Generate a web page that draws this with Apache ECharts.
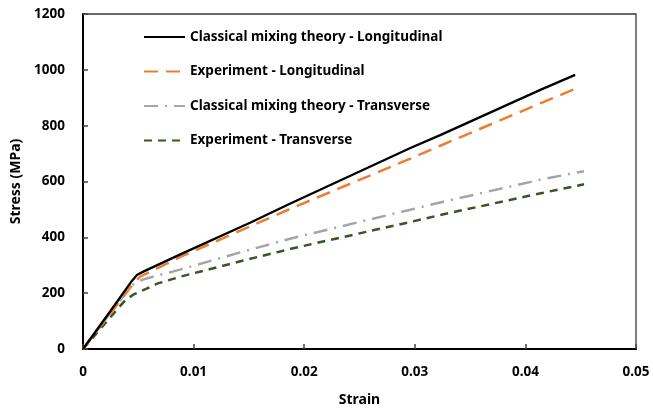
<!DOCTYPE html>
<html>
<head>
<meta charset="utf-8">
<script src="https://cdn.jsdelivr.net/npm/echarts@6/dist/echarts.min.js"></script>
<style>
  html, body { margin: 0; padding: 0; background: #fff; }
  #chart { width: 653px; height: 412px; }
</style>
</head>
<body>
<div id="chart"></div>
<script>
// Stress-strain curves: classical mixing theory vs experiment
const seriesNames = [
  'Classical mixing theory - Longitudinal',
  'Experiment - Longitudinal',
  'Classical mixing theory - Transverse',
  'Experiment - Transverse'
];

const longTheoryStrain = [0, 0.0025, 0.0044, 0.0049, 0.0055, 0.0088, 0.0151, 0.0188, 0.0296, 0.0323, 0.0414, 0.0445];
const longTheoryStress = [0, 137, 243, 266, 278, 339, 452, 522, 720, 766, 929, 982];

const longExpStrain = [0, 0.0025, 0.0045, 0.0052, 0.006, 0.0088, 0.0188, 0.0296, 0.0323, 0.0414, 0.0447];
const longExpStress = [0, 128, 232, 260, 275, 330, 503, 682, 728, 881, 935];

const transTheoryStrain = [0, 0.0025, 0.0042, 0.0047, 0.0055, 0.0067, 0.0081, 0.0144, 0.0188, 0.0296, 0.0323, 0.0414, 0.0453];
const transTheoryStress = [0, 130, 218, 238, 250, 263, 277, 348, 396, 499, 525, 607, 637];

const transExpStrain = [0, 0.002, 0.0038, 0.0046, 0.0058, 0.0067, 0.0088, 0.0144, 0.0188, 0.0296, 0.0323, 0.0414, 0.0453];
const transExpStress = [0, 92, 174, 196, 217, 234, 259, 316, 359, 455, 480, 558, 590];

const strainTicks = { min: 0, max: 0.05, interval: 0.01 };
const stressTicks = { min: 0, max: 1200, interval: 200 };

function pairs(xs, ys) {
  return xs.map((x, i) => [x, ys[i]]);
}

const font = 'Noto Sans';
const plainNumber = v => String(Math.round(v * 1e6) / 1e6);

const chart = echarts.init(document.getElementById('chart'), null, { renderer: 'canvas' });

chart.setOption({
  animation: false,
  backgroundColor: '#ffffff',
  grid: {
    left: 83, right: 17, top: 14, bottom: 61,
    show: true, borderColor: '#3a3a3a', borderWidth: 1.3
  },
  legend: {
    orient: 'vertical',
    left: 138,
    top: 25,
    itemWidth: 41,
    itemHeight: 14,
    itemGap: 20.5,
    data: seriesNames,
    itemStyle: { opacity: 0 },
    textStyle: { fontFamily: font, fontWeight: 'bold', fontSize: 13.5, color: '#000' }
  },
  xAxis: {
    type: 'value',
    min: strainTicks.min, max: strainTicks.max, interval: strainTicks.interval,
    name: 'Strain',
    nameLocation: 'middle',
    nameGap: 44,
    nameTextStyle: { fontFamily: font, fontWeight: 'bold', fontSize: 14, color: '#000' },
    axisLine: { lineStyle: { color: '#000', width: 2 } },
    axisTick: { inside: true, length: 5, lineStyle: { color: '#444', width: 1.5 } },
    axisLabel: { fontFamily: font, fontWeight: 'bold', fontSize: 13.5, color: '#000', margin: 16, formatter: plainNumber },
    splitLine: { show: false }
  },
  yAxis: {
    type: 'value',
    min: stressTicks.min, max: stressTicks.max, interval: stressTicks.interval,
    name: 'Stress (MPa)',
    nameLocation: 'middle',
    nameGap: 60,
    nameTextStyle: { fontFamily: font, fontWeight: 'bold', fontSize: 14, color: '#000' },
    axisLine: { lineStyle: { color: '#000', width: 2 } },
    axisTick: { inside: true, length: 5, lineStyle: { color: '#444', width: 1.5 } },
    axisLabel: { fontFamily: font, fontWeight: 'bold', fontSize: 13.5, color: '#000', margin: 18, formatter: plainNumber },
    splitLine: { show: false }
  },
  series: [
    {
      name: seriesNames[0], type: 'line', showSymbol: false, symbol: 'none',
      data: pairs(longTheoryStrain, longTheoryStress),
      lineStyle: { color: '#000000', width: 2.3, type: 'solid' },
      itemStyle: { color: '#000000' }, z: 5
    },
    {
      name: seriesNames[1], type: 'line', showSymbol: false, symbol: 'none',
      data: pairs(longExpStrain, longExpStress),
      lineStyle: { color: '#ED7D31', width: 2.5, type: [14, 8] },
      itemStyle: { color: '#ED7D31' }, z: 4
    },
    {
      name: seriesNames[2], type: 'line', showSymbol: false, symbol: 'none',
      data: pairs(transTheoryStrain, transTheoryStress),
      lineStyle: { color: '#A5A5A5', width: 2.5, type: [14, 7, 2, 7] },
      itemStyle: { color: '#A5A5A5' }, z: 3
    },
    {
      name: seriesNames[3], type: 'line', showSymbol: false, symbol: 'none',
      data: pairs(transExpStrain, transExpStress),
      lineStyle: { color: '#375623', width: 2.5, type: [8, 6] },
      itemStyle: { color: '#375623' }, z: 2
    }
  ]
});
</script>
</body>
</html>
